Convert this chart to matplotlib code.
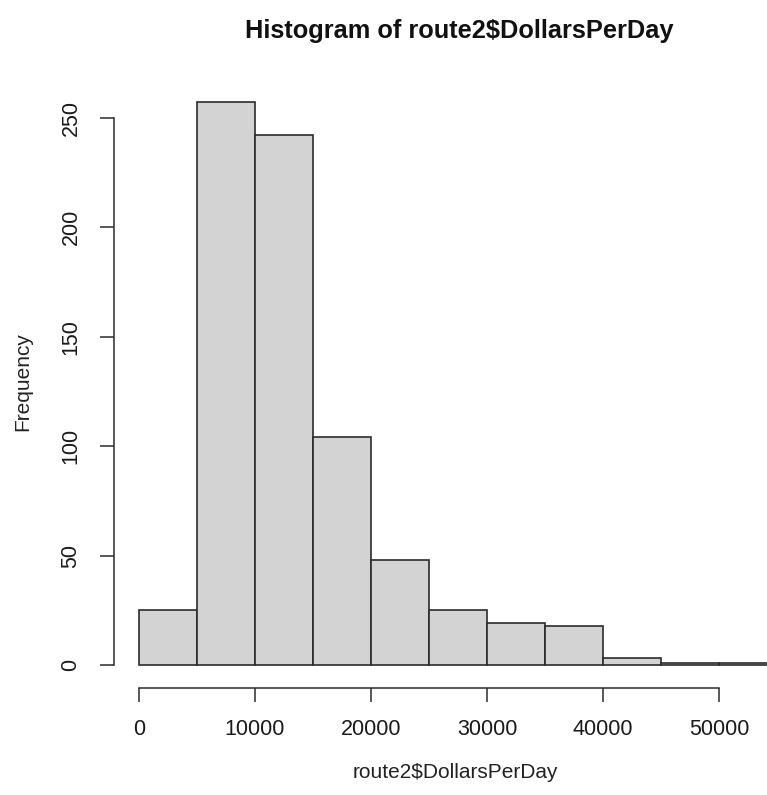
import numpy as np
import matplotlib
matplotlib.use("Agg")
import matplotlib.pyplot as plt

plt.rcParams['font.family'] = ['Liberation Sans', 'DejaVu Sans']

# histogram bins (breaks) and counts
breaks = [0, 5000, 10000, 15000, 20000, 25000, 30000, 35000, 40000, 45000, 50000, 55000]
counts = [25, 257, 242, 104, 48, 25, 19, 18, 3, 1, 1]
x_ticks = [0, 10000, 20000, 30000, 40000, 50000]
y_ticks = [0, 50, 100, 150, 200, 250]

W, H = 767, 795
fig = plt.figure(figsize=(W / 100, H / 100), dpi=100)

# plot region like R (goes past the right edge of the picture)
left, right, top, bottom = 113.5, 802.5, 80, 687.5
ax = fig.add_axes([left / W, 1 - bottom / H, (right - left) / W, (bottom - top) / H])

ax.bar(breaks[:-1], counts, width=np.diff(breaks), align='edge',
       color='#d3d3d3', edgecolor='#2b2b2b', linewidth=1.2)

ax.set_xlim(-2200, 57200)
ax.set_ylim(-10.28, 267.28)

for s in ['top', 'right']:
    ax.spines[s].set_visible(False)
ax.spines['left'].set_bounds(0, 250)
ax.spines['bottom'].set_bounds(0, 50000)
for s in ['left', 'bottom']:
    ax.spines[s].set_color('#2b2b2b')
    ax.spines[s].set_linewidth(1.1)

ax.set_xticks(x_ticks)
ax.set_yticks(y_ticks)
ax.set_yticklabels([str(v) for v in y_ticks], rotation=90, va='center')
ax.tick_params(axis='both', length=10, width=1.1, color='#2b2b2b',
               labelsize=15.5, labelcolor='#1a1a1a', pad=13)

fig.text(459 / W, 1 - 31 / H, 'Histogram of route2$DollarsPerDay',
         ha='center', va='center', fontsize=18.3, fontweight='bold', color='#111111')
fig.text(455 / W, 1 - 772 / H, 'route2$DollarsPerDay',
         ha='center', va='center', fontsize=15, color='#222222')
fig.text(23 / W, 1 - 382 / H, 'Frequency', rotation=90,
         ha='center', va='center', fontsize=15, color='#222222')

fig.savefig('out.png', dpi=100)
